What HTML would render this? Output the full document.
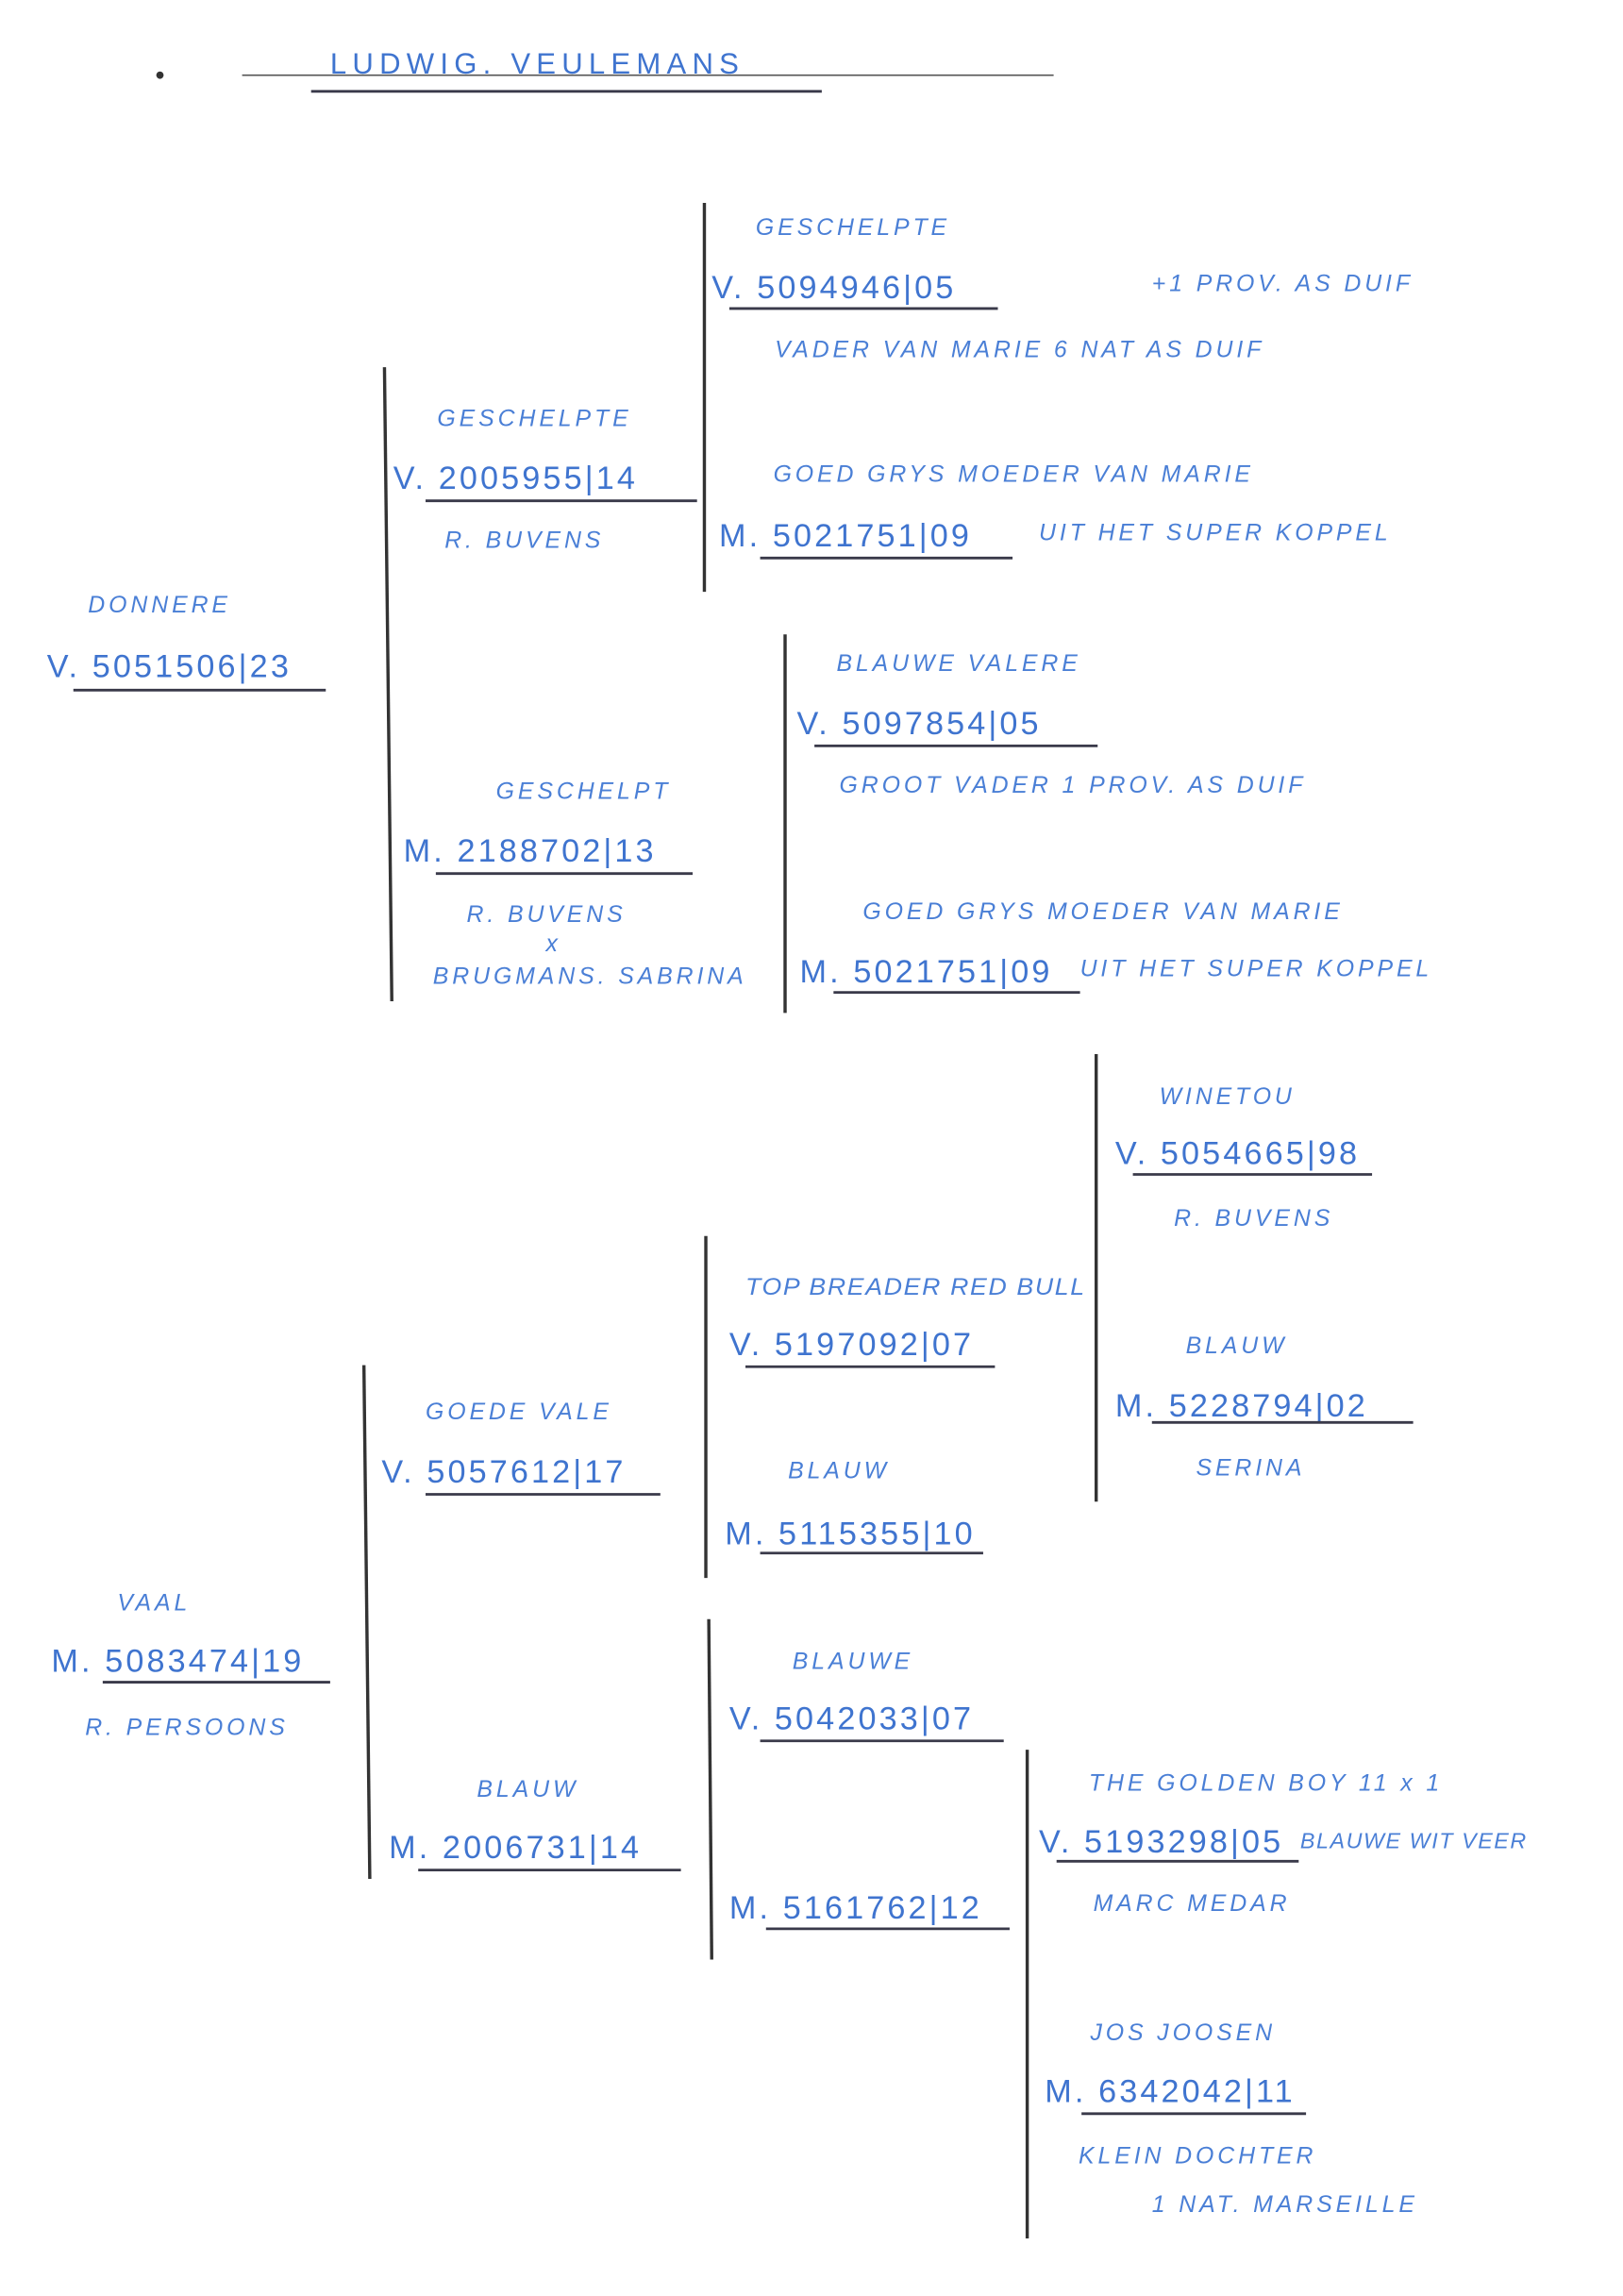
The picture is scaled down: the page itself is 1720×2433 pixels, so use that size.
<!DOCTYPE html>
<html><head><meta charset="utf-8"><style>
html,body{margin:0;padding:0;background:#fff;}
svg{display:block;}
.l{font-family:"Liberation Sans",sans-serif;font-size:16px;fill:#4a7fd6;letter-spacing:2.5px;font-style:italic;}
.n{font-family:"Liberation Sans",sans-serif;font-size:22px;fill:#3f74cf;letter-spacing:2px;}
.v{stroke:#333;stroke-width:2.2;}
.u{stroke:#3a3a4a;stroke-width:1.8;}
</style></head><body>
<svg width="1720" height="2433" viewBox="0 0 1106 1564" xmlns="http://www.w3.org/2000/svg">
<rect width="1106" height="1564" fill="#fff"/>
<circle cx="109" cy="51" r="2.5" fill="#333"/>
<line x1="165" y1="51" x2="718" y2="51" stroke="#555" stroke-width="1"/>
<text class="n" x="225" y="50" style="font-size:20px;letter-spacing:4px">LUDWIG. VEULEMANS</text>
<line class="u" x1="212" y1="62" x2="560" y2="62"/>

<line class="v" x1="480" y1="138" x2="480" y2="403"/>
<text class="l" x="515" y="160">GESCHELPTE</text>
<text class="n" x="485" y="203">V. 5094946|05</text>
<line class="u" x1="497" y1="210" x2="680" y2="210"/>
<text class="l" x="785" y="198">+1 PROV. AS DUIF</text>
<text class="l" x="528" y="243">VADER VAN MARIE 6 NAT AS DUIF</text>
<text class="l" x="527" y="328">GOED GRYS MOEDER VAN MARIE</text>
<text class="n" x="490" y="372">M. 5021751|09</text>
<line class="u" x1="518" y1="380" x2="690" y2="380"/>
<text class="l" x="708" y="368">UIT HET SUPER KOPPEL</text>

<line class="v" x1="262" y1="250" x2="267" y2="682"/>
<text class="l" x="298" y="290">GESCHELPTE</text>
<text class="n" x="268" y="333">V. 2005955|14</text>
<line class="u" x1="290" y1="341" x2="475" y2="341"/>
<text class="l" x="303" y="373">R. BUVENS</text>

<text class="l" x="60" y="417">DONNERE</text>
<text class="n" x="32" y="461">V. 5051506|23</text>
<line class="u" x1="50" y1="470" x2="222" y2="470"/>

<line class="v" x1="535" y1="432" x2="535" y2="690"/>
<text class="l" x="570" y="457">BLAUWE VALERE</text>
<text class="n" x="543" y="500">V. 5097854|05</text>
<line class="u" x1="555" y1="508" x2="748" y2="508"/>
<text class="l" x="572" y="540">GROOT VADER 1 PROV. AS DUIF</text>
<text class="l" x="588" y="626">GOED GRYS MOEDER VAN MARIE</text>
<text class="n" x="545" y="669">M. 5021751|09</text>
<line class="u" x1="568" y1="676" x2="736" y2="676"/>
<text class="l" x="736" y="665">UIT HET SUPER KOPPEL</text>

<text class="l" x="338" y="544">GESCHELPT</text>
<text class="n" x="275" y="587">M. 2188702|13</text>
<line class="u" x1="297" y1="595" x2="472" y2="595"/>
<text class="l" x="318" y="628">R. BUVENS</text>
<text class="l" x="372" y="648">x</text>
<text class="l" x="295" y="670">BRUGMANS. SABRINA</text>

<line class="v" x1="747" y1="718" x2="747" y2="1023"/>
<text class="l" x="790" y="752">WINETOU</text>
<text class="n" x="760" y="793">V. 5054665|98</text>
<line class="u" x1="772" y1="800" x2="935" y2="800"/>
<text class="l" x="800" y="835">R. BUVENS</text>
<text class="l" x="808" y="922">BLAUW</text>
<text class="n" x="760" y="965">M. 5228794|02</text>
<line class="u" x1="785" y1="969" x2="963" y2="969"/>
<text class="l" x="815" y="1005">SERINA</text>

<line class="v" x1="481" y1="842" x2="481" y2="1075"/>
<text class="l" x="508" y="882" textLength="232" lengthAdjust="spacingAndGlyphs" style="letter-spacing:1px">TOP BREADER RED BULL</text>
<text class="n" x="497" y="923">V. 5197092|07</text>
<line class="u" x1="508" y1="931" x2="678" y2="931"/>
<text class="l" x="537" y="1007">BLAUW</text>
<text class="n" x="494" y="1052">M. 5115355|10</text>
<line class="u" x1="518" y1="1058" x2="670" y2="1058"/>

<line class="v" x1="248" y1="930" x2="252" y2="1280"/>
<text class="l" x="290" y="967">GOEDE VALE</text>
<text class="n" x="260" y="1010">V. 5057612|17</text>
<line class="u" x1="290" y1="1018" x2="450" y2="1018"/>

<text class="l" x="80" y="1097">VAAL</text>
<text class="n" x="35" y="1139">M. 5083474|19</text>
<line class="u" x1="70" y1="1146" x2="225" y2="1146"/>
<text class="l" x="58" y="1182">R. PERSOONS</text>

<line class="v" x1="483" y1="1103" x2="485" y2="1335"/>
<text class="l" x="540" y="1137">BLAUWE</text>
<text class="n" x="497" y="1178">V. 5042033|07</text>
<line class="u" x1="518" y1="1186" x2="684" y2="1186"/>
<text class="l" x="325" y="1224">BLAUW</text>
<text class="n" x="265" y="1266">M. 2006731|14</text>
<line class="u" x1="285" y1="1274" x2="464" y2="1274"/>
<text class="n" x="497" y="1307">M. 5161762|12</text>
<line class="u" x1="522" y1="1314" x2="688" y2="1314"/>

<line class="v" x1="700" y1="1192" x2="700" y2="1525"/>
<text class="l" x="742" y="1220">THE GOLDEN BOY 11 x 1</text>
<text class="n" x="708" y="1262">V. 5193298|05</text>
<text class="l" x="886" y="1259" style="font-size:15px;letter-spacing:1px">BLAUWE WIT VEER</text>
<line class="u" x1="720" y1="1268" x2="885" y2="1268"/>
<text class="l" x="745" y="1302">MARC MEDAR</text>
<text class="l" x="743" y="1390">JOS JOOSEN</text>
<text class="n" x="712" y="1432">M. 6342042|11</text>
<line class="u" x1="737" y1="1440" x2="890" y2="1440"/>
<text class="l" x="735" y="1474">KLEIN DOCHTER</text>
<text class="l" x="785" y="1507">1 NAT. MARSEILLE</text>
</svg>
</body></html>
